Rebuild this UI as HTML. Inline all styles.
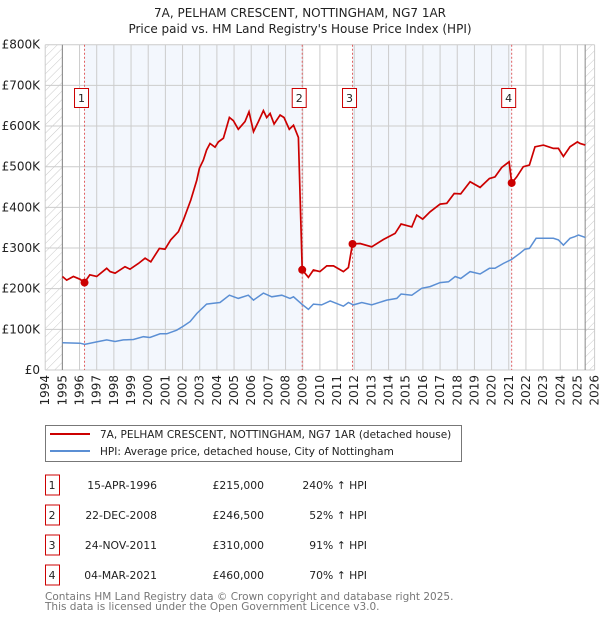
<!DOCTYPE html>
<html><head><meta charset="utf-8">
<style>
body{margin:0;background:#fff;font-family:"DejaVu Sans","Liberation Sans",sans-serif;}
svg text{font-family:"DejaVu Sans","Liberation Sans",sans-serif;}
</style></head>
<body>
<svg id="chart" width="600" height="620" xmlns="http://www.w3.org/2000/svg">
<defs>
<pattern id="hatch" width="6" height="6" patternUnits="userSpaceOnUse" patternTransform="rotate(45)">
<line x1="0" y1="0" x2="0" y2="6" stroke="#bbb" stroke-width="0.8"/>
</pattern>
</defs>
<text x="300" y="17" text-anchor="middle" font-size="12" fill="#222">7A, PELHAM CRESCENT, NOTTINGHAM, NG7 1AR</text>
<text x="300" y="33" text-anchor="middle" font-size="12" fill="#222">Price paid vs. HM Land Registry's House Price Index (HPI)</text>
<g id="plot"></g>
<g>
<rect x="45.5" y="425.5" width="416" height="36" fill="#fff" stroke="#777"/>
<line x1="50" y1="434" x2="90" y2="434" stroke="#cc0000" stroke-width="2"/>
<text x="100" y="438" font-size="10.5" fill="#222">7A, PELHAM CRESCENT, NOTTINGHAM, NG7 1AR (detached house)</text>
<line x1="50" y1="451" x2="90" y2="451" stroke="#5b8fd4" stroke-width="2"/>
<text x="100" y="455" font-size="10.5" fill="#222">HPI: Average price, detached house, City of Nottingham</text>
</g>
<g id="table"></g>
<text x="45" y="600" font-size="10.5" fill="#777">Contains HM Land Registry data © Crown copyright and database right 2025.</text>
<text x="45" y="610" font-size="10.5" fill="#777">This data is licensed under the Open Government Licence v3.0.</text>
</svg>
<script>
const NS="http://www.w3.org/2000/svg";
const yTicks=[0,100,200,300,400,500,600,700,800];
const yTickLabels=["£0","£100K","£200K","£300K","£400K","£500K","£600K","£700K","£800K"];
const xYears=[1994,1995,1996,1997,1998,1999,2000,2001,2002,2003,2004,2005,2006,2007,2008,2009,2010,2011,2012,2013,2014,2015,2016,2017,2018,2019,2020,2021,2022,2023,2024,2025,2026];
const saleYears=[1996.29,2008.97,2011.9,2021.17];
const saleValues=[215,246.5,310,460];
const saleLabels=["1","2","3","4"];
const saleDates=["15-APR-1996","22-DEC-2008","24-NOV-2011","04-MAR-2021"];
const salePrices=["£215,000","£246,500","£310,000","£460,000"];
const saleHpi=["240% ↑ HPI","52% ↑ HPI","91% ↑ HPI","70% ↑ HPI"];
const redYears=[1995,1995.25,1995.64,1996.03,1996.29,1996.6,1997,1997.58,1997.78,1998.07,1998.65,1998.94,1999.43,1999.82,2000.15,2000.65,2000.98,2001.31,2001.76,2002.05,2002.48,2002.83,2002.98,2003.21,2003.4,2003.6,2003.89,2004.09,2004.38,2004.73,2004.96,2005.25,2005.64,2005.87,2006.13,2006.42,2006.71,2006.9,2007.1,2007.33,2007.68,2007.91,2008.22,2008.46,2008.75,2008.97,2009.33,2009.62,2010,2010.4,2010.79,2011.37,2011.66,2011.9,2012.34,2013.02,2013.7,2014.38,2014.73,2015.35,2015.64,2015.99,2016.42,2017,2017.39,2017.82,2018.2,2018.75,2019.33,2019.87,2020.2,2020.59,2021.02,2021.17,2021.46,2021.85,2022.2,2022.53,2023.02,2023.6,2023.89,2024.18,2024.57,2025,2025.15,2025.46];
const redValues=[230,221,230,223,215,234,230,250,242,238,254,248,262,275,266,299,297,320,340,369,418,467,496,516,541,557,548,561,570,621,613,592,611,635,586,611,638,621,631,605,627,621,592,602,572,246.5,228,246,242,256,256,242,252,310,311,303,321,336,359,352,381,371,389,408,410,434,433,463,449,471,475,498,512,460,475,500,504,549,553,545,545,525,549,561,557,553];
const hpiYears=[1995,1996.03,1996.3,1997,1997.58,1998.07,1998.55,1999.14,1999.72,2000.1,2000.69,2001.08,2001.66,2002.05,2002.44,2002.83,2003.4,2003.8,2004.18,2004.73,2005.25,2005.83,2006.13,2006.71,2007.2,2007.78,2008.26,2008.46,2008.94,2009.33,2009.62,2010.1,2010.6,2011.37,2011.66,2011.95,2012.44,2013.02,2013.89,2014.48,2014.73,2015.35,2015.93,2016.42,2017,2017.49,2017.88,2018.2,2018.75,2019.33,2019.87,2020.2,2020.68,2021.17,2021.65,2021.94,2022.2,2022.59,2023.02,2023.6,2023.89,2024.18,2024.57,2024.86,2025.06,2025.46];
const hpiValues=[67,66,63,69,74,70,74,75,82,80,89,89,98,108,119,139,162,164,166,184,176,184,172,189,180,184,176,180,162,149,162,160,170,157,166,160,166,160,172,176,187,184,201,205,215,217,230,225,242,236,250,250,262,272,287,297,299,324,324,324,320,307,324,328,332,326];

const X0=45.2,X1=594.6,Y0=370,Y1=44.7;
const xs=y=>X0+(y-1994)/32*(X1-X0);
const ys=v=>Y0-v/800*(Y0-Y1);
const plot=document.getElementById('plot');
function mk(tag,attrs,parent){const e=document.createElementNS(NS,tag);for(const k in attrs)e.setAttribute(k,attrs[k]);(parent||plot).appendChild(e);return e;}

let b=mk('rect',{x:xs(saleYears[0]),y:Y1,width:xs(saleYears[1])-xs(saleYears[0]),height:Y0-Y1,fill:'#eef3fc',opacity:0.7});


b=mk('rect',{x:xs(saleYears[2]),y:Y1,width:xs(saleYears[3])-xs(saleYears[2]),height:Y0-Y1,fill:'#eef3fc',opacity:0.7});


let h=mk('rect',{x:X0,y:Y1,width:xs(1995)-X0,height:Y0-Y1,fill:'url(#hatch)'});


h=mk('rect',{x:xs(2025.45),y:Y1,width:X1-xs(2025.45),height:Y0-Y1,fill:'url(#hatch)'});


xYears.forEach(yr=>{
 const g=mk('line',{x1:xs(yr),x2:xs(yr),y1:Y1,y2:Y0,stroke:'#ccc','stroke-width':1});
 
 
 const x=xs(yr),t=mk('text',{x:x+4,y:375,'font-size':12,fill:'#222','text-anchor':'end',transform:`rotate(-90 ${x+4} 375)`});
 
 
 t.textContent=yr;
});
yTicks.forEach((v,i)=>{
 const g=mk('line',{x1:X0,x2:X1,y1:ys(v),y2:ys(v),stroke:'#ccc','stroke-width':1});
 
 
 const t=mk('text',{x:40,y:ys(v)+4,'font-size':12,fill:'#222','text-anchor':'end'});
 
 
 t.textContent=yTickLabels[i];
});
let a=mk('line',{x1:xs(1995),x2:xs(1995),y1:Y1,y2:Y0,stroke:'#888'});


a=mk('line',{x1:xs(2025.45),x2:xs(2025.45),y1:Y1,y2:Y0,stroke:'#888'});


saleYears.forEach((yr,i)=>{
 const l=mk('line',{x1:xs(yr),x2:xs(yr),y1:Y1,y2:Y0,stroke:'#e06060','stroke-width':1,'stroke-dasharray':'2,2'});
 
 
});
function pathOf(xa,va){return xa.map((y,i)=>(i?'L':'M')+xs(y).toFixed(1)+','+ys(va[i]).toFixed(1)).join('');}
const hp=mk('path',{d:pathOf(hpiYears,hpiValues),fill:'none',stroke:'#5b8fd4','stroke-width':1.5});


const rp=mk('path',{d:pathOf(redYears,redValues),fill:'none',stroke:'#cc0000','stroke-width':1.7});


saleYears.forEach((yr,i)=>{
 const c=mk('circle',{cx:xs(yr),cy:ys(saleValues[i]),r:4,fill:'#cc0000'});
 
 
 const cx=xs(yr)-3;
 const r=mk('rect',{x:cx-7,y:88.5,width:14,height:19,fill:'#fff',stroke:'#cc0000'});
 
 
 const t=mk('text',{x:cx,y:102,'font-size':11,'text-anchor':'middle',fill:'#222'});
 
 
 t.textContent=saleLabels[i];
});
const tb=document.getElementById('table');
saleLabels.forEach((s,i)=>{
 const y=483+i*30;
 const r=mk('rect',{x:45.5,y:y-8,width:14,height:20,fill:'#fff',stroke:'#cc0000'},tb);
 
 
 const cells=[[52,s,'middle'],[157,saleDates[i],'end'],[264,salePrices[i],'end'],[367,saleHpi[i],'end']];
 cells.forEach(([x,txt,anc])=>{
  const t=mk('text',{x:x,y:y+6,'font-size':10.8,fill:'#222','text-anchor':anc},tb);
  
  
  t.textContent=txt;
 });
});
</script>
</body></html>
